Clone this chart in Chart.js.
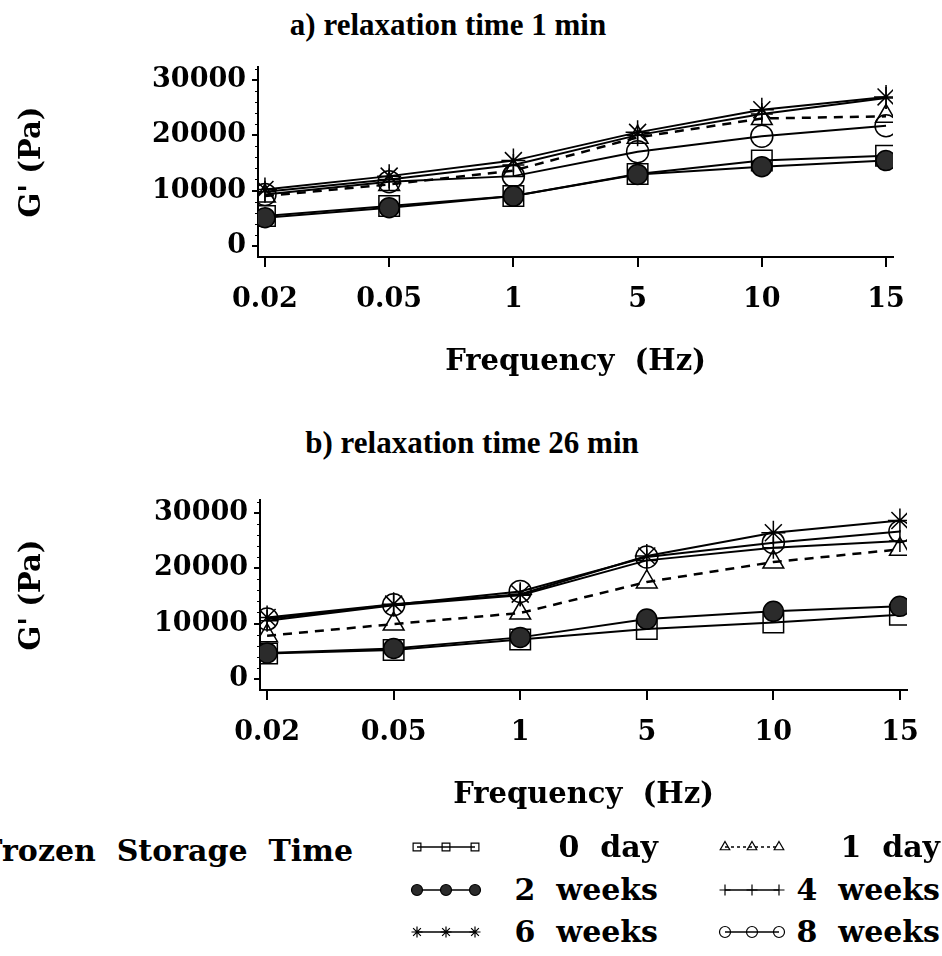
<!DOCTYPE html>
<html>
<head>
<meta charset="utf-8">
<script src="https://cdn.jsdelivr.net/npm/chart.js@4.4.1/dist/chart.umd.min.js"></script>
<style>
  html, body { margin: 0; padding: 0; background: #fff; }
  body { width: 942px; height: 956px; position: relative; overflow: hidden; }
  canvas { position: absolute; }
  .ptitle { position: absolute; font: bold 31px "Liberation Serif", serif; white-space: nowrap; transform: translate(-50%, -50%); color: #000; }
  .leg { position: absolute; font: bold 30px "DejaVu Serif", serif; white-space: pre; color: #000; line-height: 36px; }
</style>
</head>
<body>
<div class="ptitle" style="left:448px; top:25px;">a) relaxation time 1 min</div>
<canvas id="chartA" width="942" height="400" style="left:0; top:0;"></canvas>
<div class="ptitle" style="left:472px; top:443px;">b) relaxation time 26 min</div>
<canvas id="chartB" width="940" height="400" style="left:2px; top:433px;"></canvas>
<div id="legend"></div>

<script>
// ---- data ----
const freqLabels = ["0.02", "0.05", "1", "5", "10", "15"];
const yTickValues = [0, 10000, 20000, 30000];
const seriesNames = ["0 day", "1 day", "2 weeks", "4 weeks", "6 weeks", "8 weeks"];

// a) relaxation time 1 min
const aDay0   = [5400, 7200, 9000, 13000, 15400, 16300];
const aDay1   = [9000, 11100, 13600, 19600, 23000, 23400];
const aWeek2  = [5100, 6900, 9000, 12900, 14300, 15400];
const aWeek4  = [9800, 12000, 14600, 20000, 23800, 26700];
const aWeek6  = [10200, 12600, 15400, 20500, 24600, 26900];
const aWeek8  = [9300, 11600, 12600, 17000, 19800, 21700];

// b) relaxation time 26 min
const bDay0   = [4600, 5200, 7100, 9000, 10200, 11600];
const bDay1   = [7800, 9900, 11900, 17500, 21100, 23400];
const bWeek2  = [4700, 5500, 7500, 10800, 12200, 13100];
const bWeek4  = [10500, 13300, 15100, 21400, 23700, 24900];
const bWeek6  = [11100, 13500, 15300, 22200, 26400, 28600];
const bWeek8  = [10800, 13400, 15800, 22000, 24600, 26600];

// marker / line look per series (same order as seriesNames)
const seriesStyles = [
  { pointStyle: "rect",     radius: 14.5, fill: "rgba(0,0,0,0)", dash: [] },
  { pointStyle: "triangle", radius: 12,   fill: "rgba(0,0,0,0)", dash: [9, 7] },
  { pointStyle: "circle",   radius: 10,   fill: "#2b2b2b",       dash: [] },
  { pointStyle: "cross",    radius: 11,   fill: "rgba(0,0,0,0)", dash: [] },
  { pointStyle: "star",     radius: 12,   fill: "rgba(0,0,0,0)", dash: [] },
  { pointStyle: "circle",   radius: 11,   fill: "rgba(0,0,0,0)", dash: [] },
];

const serifBold = (size) => ({ family: "DejaVu Serif", weight: "bold", size: size });

// short minor marks on the y axis, between the labelled ticks
const minorTicks = {
  id: "minorTicks",
  afterDraw(chart) {
    const y = chart.scales.y;
    const ctx = chart.ctx;
    ctx.save();
    ctx.strokeStyle = "#000";
    ctx.lineWidth = 1;
    for (let v = 2000; v < y.max; v += 2000) {
      if (v % 10000 === 0) continue;
      const py = Math.round(y.getPixelForValue(v)) + 0.5;
      ctx.beginPath();
      ctx.moveTo(y.right - 3, py);
      ctx.lineTo(y.right, py);
      ctx.stroke();
    }
    ctx.restore();
  },
};

function buildDatasets(valuesList) {
  // draw order: index 0 ends up on top, so put the filled circles first
  const drawOrder = [2, 0, 5, 1, 3, 4];
  return drawOrder.map((i) => {
    const st = seriesStyles[i];
    return {
      label: seriesNames[i],
      data: valuesList[i].map((v, k) => ({ x: k, y: v })),
      borderColor: "#000",
      borderWidth: st.dash.length ? 2.5 : 2,
      borderDash: st.dash,
      tension: 0,
      fill: false,
      pointStyle: st.pointStyle,
      pointRadius: st.radius,
      pointBorderColor: "#000",
      pointBorderWidth: 1.5,
      pointBackgroundColor: st.fill,
    };
  });
}

function makePanel(canvasId, valuesList, rightPad, yTitlePad) {
  return new Chart(document.getElementById(canvasId), {
    type: "line",
    data: { datasets: buildDatasets(valuesList) },
    options: {
      responsive: false,
      animation: false,
      devicePixelRatio: 1,
      layout: { padding: { left: 0, right: rightPad, top: 67, bottom: 0 } },
      plugins: { legend: { display: false }, tooltip: { enabled: false } },
      scales: {
        x: {
          type: "linear",
          min: -0.056,
          max: 5.056,
          afterBuildTicks: (s) => { s.ticks = freqLabels.map((_, i) => ({ value: i })); },
          afterFit: (s) => { s.height = 143; },
          ticks: {
            callback: (v) => freqLabels[v],
            color: "#000",
            font: serifBold(27),
            padding: 17,
            maxRotation: 0,
            autoSkip: false,
          },
          grid: { drawOnChartArea: false, tickLength: 10, color: "#000", lineWidth: 2 },
          border: { color: "#000", width: 2 },
          title: {
            display: true,
            text: "Frequency  (Hz)",
            color: "#000",
            font: serifBold(29),
            padding: { top: 0, bottom: 20 },
          },
        },
        y: {
          min: -2000,
          max: 32300,
          afterBuildTicks: (s) => { s.ticks = yTickValues.map((v) => ({ value: v })); },
          afterFit: (s) => { s.width = 258; },
          ticks: { color: "#000", font: serifBold(27), padding: 6, callback: (v) => String(v) },
          grid: { drawOnChartArea: false, tickLength: 6, color: "#000", lineWidth: 2 },
          border: { color: "#000", width: 2 },
          title: {
            display: true,
            text: "G' (Pa)",
            color: "#000",
            font: serifBold(29),
            padding: { top: yTitlePad, bottom: 0 },
          },
        },
      },
    },
    plugins: [minorTicks],
  });
}

makePanel("chartA", [aDay0, aDay1, aWeek2, aWeek4, aWeek6, aWeek8], 49, 15);
makePanel("chartB", [bDay0, bDay1, bWeek2, bWeek4, bWeek6, bWeek8], 35, 13);

// ---- legend ----
const legend = document.getElementById("legend");
const legTitle = document.createElement("div");
legTitle.className = "leg";
legTitle.textContent = "Frozen  Storage  Time";
legTitle.style.right = (942 - 353) + "px";
legTitle.style.top = (851 - 18) + "px";
legend.appendChild(legTitle);

const legRows = [847, 890, 932];
const legCols = [
  { symLeft: 417, symWidth: 58, textRight: 658 },
  { symLeft: 725, symWidth: 54, textRight: 940 },
];
const pad = 9;

seriesNames.forEach((name, i) => {
  const row = Math.floor(i / 2);
  const col = legCols[i % 2];
  const cy = legRows[row];
  const st = seriesStyles[i];

  const c = document.createElement("canvas");
  c.width = col.symWidth + pad * 2;
  c.height = 22;
  c.style.left = (col.symLeft - pad) + "px";
  c.style.top = (cy - 11) + "px";
  legend.appendChild(c);
  const ctx = c.getContext("2d");
  ctx.strokeStyle = "#000";
  ctx.lineWidth = 1.5;
  ctx.setLineDash(st.dash.length ? [3, 3] : []);
  ctx.beginPath();
  ctx.moveTo(pad, 11);
  ctx.lineTo(pad + col.symWidth, 11);
  ctx.stroke();
  ctx.setLineDash([]);
  [0, 0.5, 1].forEach((f) => {
    ctx.fillStyle = st.fill;
    ctx.strokeStyle = "#000";
    ctx.lineWidth = 1.2;
    Chart.helpers.drawPoint(ctx, {
      pointStyle: st.pointStyle,
      rotation: 0,
      radius: 5.5,
      borderWidth: 1.2,
    }, pad + f * col.symWidth, 11);
  });

  const t = document.createElement("div");
  t.className = "leg";
  t.textContent = name.replace(" ", "  ");
  t.style.right = (942 - col.textRight) + "px";
  t.style.top = (cy - 18) + "px";
  legend.appendChild(t);
});
</script>
</body>
</html>
